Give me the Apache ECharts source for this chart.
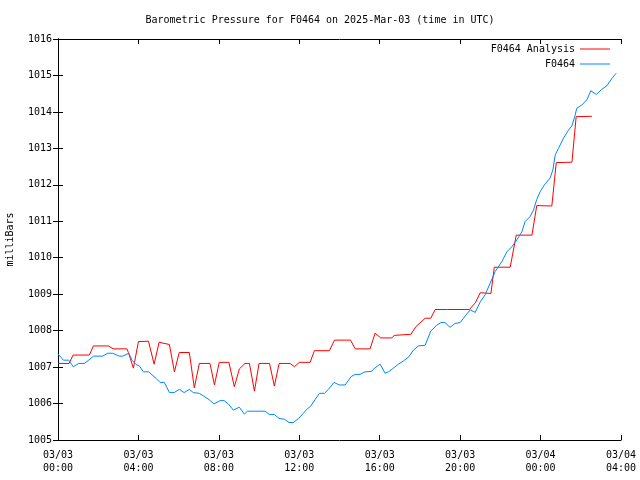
<!DOCTYPE html>
<html>
<head>
<meta charset="utf-8">
<script src="https://cdn.jsdelivr.net/npm/echarts@6/dist/echarts.min.js"></script>
<style>html,body{margin:0;padding:0;background:#fff}#c{width:640px;height:480px}</style>
</head>
<body>
<div id="c"></div>
<script>
var titleText = 'Barometric Pressure for F0464 on 2025-Mar-03 (time in UTC)';
var yAxisName = 'milliBars';
var seriesNames = ['F0464 Analysis', 'F0464'];
var xTickLabels = ['03/03\n00:00','03/03\n04:00','03/03\n08:00','03/03\n12:00','03/03\n16:00','03/03\n20:00','03/04\n00:00','03/04\n04:00'];

// hours since 2025-03-03 00:00 UTC
var analysisHours = [0.0,0.55,0.75,1.56,1.76,2.5,2.75,3.43,3.5,3.75,4.0,4.5,4.78,5.03,5.54,5.79,6.03,6.53,6.78,7.03,7.56,7.78,8.02,8.5,8.77,9.02,9.3,9.52,9.77,10.0,10.52,10.76,11.0,11.54,11.76,12.0,12.54,12.75,13.5,13.75,14.55,14.78,15.52,15.77,16.05,16.6,16.72,17.55,17.8,18.26,18.54,18.76,19.37,19.45,20.46,20.75,21.0,21.53,21.7,22.49,22.79,23.57,23.81,24.56,24.78,25.56,25.77,26.55];
var analysisValues = [1007.10,1007.10,1007.33,1007.33,1007.58,1007.58,1007.50,1007.50,1007.40,1006.97,1007.70,1007.71,1007.08,1007.68,1007.62,1006.87,1007.40,1007.40,1006.43,1007.10,1007.10,1006.51,1007.13,1007.13,1006.46,1006.95,1007.10,1007.10,1006.34,1007.10,1007.10,1006.48,1007.10,1007.10,1007.01,1007.13,1007.13,1007.45,1007.45,1007.74,1007.74,1007.50,1007.50,1007.93,1007.80,1007.80,1007.87,1007.90,1008.11,1008.34,1008.34,1008.58,1008.58,1008.56,1008.58,1008.76,1009.04,1009.02,1009.74,1009.74,1010.62,1010.62,1011.43,1011.42,1012.61,1012.62,1013.87,1013.88];

var stationHours = [0.0,0.27,0.53,0.76,1.03,1.31,1.53,1.76,2.22,2.47,2.72,3.05,3.22,3.52,3.68,3.88,4.05,4.25,4.51,4.88,5.07,5.29,5.54,5.77,6.04,6.27,6.53,6.73,7.03,7.23,7.53,7.76,8.06,8.26,8.47,8.72,9.02,9.27,9.42,10.3,10.51,10.76,11.0,11.26,11.49,11.71,11.96,12.2,12.37,12.57,12.79,13.0,13.25,13.45,13.73,13.98,14.28,14.58,14.78,15.02,15.27,15.57,15.77,16.02,16.27,16.43,16.68,16.93,17.18,17.43,17.68,17.93,18.26,18.54,18.84,19.04,19.25,19.5,19.75,20.0,20.25,20.5,20.75,21.0,21.24,21.49,21.74,22.07,22.32,22.57,22.82,23.07,23.23,23.48,23.65,23.81,23.98,24.18,24.48,24.61,24.73,24.89,25.14,25.39,25.56,25.72,25.8,26.05,26.3,26.5,26.77,27.05,27.3,27.55,27.76];
var stationValues = [1007.36,1007.19,1007.19,1007.01,1007.10,1007.10,1007.19,1007.30,1007.30,1007.38,1007.38,1007.30,1007.30,1007.38,1007.19,1007.07,1007.03,1006.87,1006.87,1006.69,1006.58,1006.58,1006.30,1006.30,1006.39,1006.30,1006.39,1006.30,1006.28,1006.21,1006.10,1005.99,1006.08,1006.08,1005.99,1005.82,1005.90,1005.71,1005.79,1005.79,1005.70,1005.70,1005.59,1005.57,1005.48,1005.48,1005.59,1005.73,1005.84,1005.93,1006.11,1006.28,1006.28,1006.39,1006.58,1006.51,1006.51,1006.74,1006.80,1006.80,1006.87,1006.88,1006.98,1007.08,1006.83,1006.87,1006.97,1007.08,1007.17,1007.27,1007.47,1007.58,1007.60,1007.99,1008.15,1008.22,1008.22,1008.09,1008.20,1008.22,1008.40,1008.57,1008.50,1008.79,1008.98,1009.30,1009.62,1009.89,1010.16,1010.30,1010.49,1010.71,1010.99,1011.13,1011.31,1011.60,1011.81,1011.99,1012.19,1012.41,1012.82,1013.00,1013.28,1013.50,1013.62,1013.91,1014.10,1014.19,1014.33,1014.58,1014.48,1014.62,1014.72,1014.92,1015.06];

var FONT = 'DejaVu Sans Mono';
function pairs(xs, ys){ return xs.map(function(x,i){ return [x, ys[i]]; }); }
var legendWidth = Math.max.apply(null, seriesNames.map(function(s){ return s.length; }));
function padLeft(s){ while (s.length < legendWidth) s = ' ' + s; return s; }

var chart = echarts.init(document.getElementById('c'), null, {renderer:'canvas'});
var axisLineStyle = {show:true, lineStyle:{color:'#000', width:1}};
var tickStyle = {show:true, inside:true, length:5, lineStyle:{color:'#000', width:1}};
chart.setOption({
  backgroundColor:'#fff',
  animation:false,
  title:{text:titleText, left:'center', top:15, padding:[0,0,0,44],
    textStyle:{fontFamily:FONT, fontSize:10, fontWeight:'normal', color:'#000'}},
  legend:{data:seriesNames, orient:'vertical', right:30, top:44, padding:0, itemGap:5,
    itemWidth:30, itemHeight:1, icon:'rect', align:'right', selectedMode:false,
    formatter:function(name){ return padLeft(name); },
    textStyle:{fontFamily:FONT, fontSize:10, color:'#000', whiteSpace:'pre'}},
  grid:{left:58, right:19, top:39, bottom:40, containLabel:false, outerBoundsMode:'none'},
  xAxis:[
    {type:'value', min:0, max:28, interval:4, position:'bottom',
      axisLine:axisLineStyle, axisTick:tickStyle, splitLine:{show:false},
      axisLabel:{margin:9, fontFamily:FONT, fontSize:10, color:'#000', lineHeight:13,
        formatter:function(v){ return xTickLabels[Math.round(v/4)]; }}},
    {type:'value', min:0, max:28, interval:4, position:'top',
      axisLine:axisLineStyle, axisTick:tickStyle, splitLine:{show:false}, axisLabel:{show:false}}
  ],
  yAxis:[
    {type:'value', min:1005, max:1016, interval:1, position:'left',
      name:yAxisName, nameLocation:'middle', nameGap:43, nameRotate:90,
      nameTextStyle:{fontFamily:FONT, fontSize:10, color:'#000'},
      axisLine:axisLineStyle, axisTick:tickStyle, splitLine:{show:false},
      axisLabel:{margin:6, fontFamily:FONT, fontSize:10, color:'#000',
        formatter:function(v){ return String(v); }}},
    {type:'value', min:1005, max:1016, interval:1, position:'right',
      axisLine:axisLineStyle, axisTick:tickStyle, splitLine:{show:false}, axisLabel:{show:false}}
  ],
  series:[
    {name:seriesNames[0], type:'line', symbol:'none', data:pairs(analysisHours, analysisValues),
      lineStyle:{color:'#ff0000', width:1}, itemStyle:{color:'#ff0000'}},
    {name:seriesNames[1], type:'line', symbol:'none', data:pairs(stationHours, stationValues),
      lineStyle:{color:'#0088ff', width:1}, itemStyle:{color:'#0088ff'}}
  ]
});
</script>
</body>
</html>
